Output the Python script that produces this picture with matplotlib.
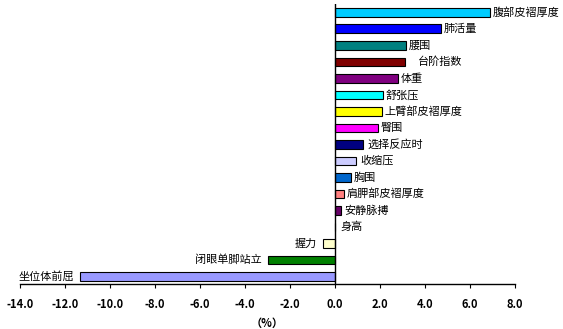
import matplotlib
matplotlib.use("Agg")
import matplotlib.pyplot as plt

plt.rcParams['font.family'] = ['Noto Sans CJK SC', 'DejaVu Sans']

categories = ["腹部皮褶厚度", "肺活量", "腰围", "台阶指数", "体重", "舒张压",
              "上臂部皮褶厚度", "臀围", "选择反应时", "收缩压", "胸围",
              "肩胛部皮褶厚度", "安静脉搏", "身高", "握力", "闭眼单脚站立", "坐位体前屈"]
values = [6.87, 4.7, 3.15, 3.13, 2.8, 2.13, 2.08, 1.9, 1.25, 0.93, 0.72,
          0.4, 0.27, 0.0, -0.55, -3.0, -11.35]
colors = ["#00CCFF", "#0000FF", "#008080", "#800000", "#800080", "#00FFFF",
          "#FFFF00", "#FF00FF", "#000080", "#CCCCFF", "#0066CC",
          "#FF8080", "#660066", "#FFFFFF", "#FFFFCC", "#008000", "#9999FF"]
label_pad = [2, 2, 2, 9, 2, 2, 2, 2, 3, 3, 2, 2, 2, 4, 4, 4, 4]
xticks = [-14.0, -12.0, -10.0, -8.0, -6.0, -4.0, -2.0, 0.0, 2.0, 4.0, 6.0, 8.0]

fig = plt.figure(figsize=(5.63, 3.29), dpi=100)
ax = fig.add_axes([20/563, (329-284)/329, 495/563, 280/329])

pos = list(range(len(categories)))
ax.barh(pos, values, height=0.52, color=colors, edgecolor="black", linewidth=0.8)

for i, (c, v) in enumerate(zip(categories, values)):
    if v >= 0:
        ax.annotate(c, (v, i), xytext=(label_pad[i], 0), textcoords="offset points",
                    ha="left", va="center", fontsize=8)
    else:
        ax.annotate(c, (v, i), xytext=(-label_pad[i], 0), textcoords="offset points",
                    ha="right", va="center", fontsize=8)

ax.set_xlim(-14, 8)
ax.set_ylim(16.45, -0.5)
ax.set_xticks(xticks)
ax.set_xticklabels([f"{t:.1f}" for t in xticks], fontsize=8, fontweight="bold")
ax.set_yticks([])
for s in ["top", "right", "left"]:
    ax.spines[s].set_visible(False)
ax.spines["bottom"].set_linewidth(1.0)
ax.axvline(0, color="black", linewidth=1.0)
ax.tick_params(axis="x", length=3, width=0.8, pad=7)
ax.set_xlabel("（%）", fontsize=8, fontweight="bold", labelpad=4)

fig.savefig("out.png", dpi=100)
